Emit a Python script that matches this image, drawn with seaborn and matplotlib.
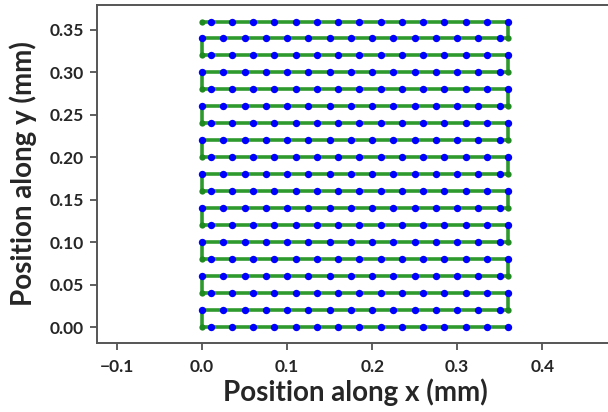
import matplotlib
matplotlib.use("Agg")
import matplotlib.pyplot as plt
import seaborn as sns
import pandas as pd

# Row positions (mm)
rows_y = [0.00, 0.02, 0.04, 0.06, 0.08, 0.10, 0.12, 0.14, 0.16, 0.18,
          0.20, 0.22, 0.24, 0.26, 0.28, 0.30, 0.32, 0.34, 0.36]
# Row end points (mm)
row_start_x = 0.36   # even rows scan right -> left
row_end_x = 0.0
# Sample positions on even rows (scanned right -> left)
samples_even_x = [0.360, 0.335, 0.310, 0.285, 0.260, 0.235, 0.210, 0.185,
                  0.160, 0.135, 0.110, 0.085, 0.060, 0.035, 0.010]
# Sample positions on odd rows (scanned left -> right)
samples_odd_x = [0.000, 0.025, 0.050, 0.075, 0.100, 0.125, 0.150, 0.175,
                 0.200, 0.225, 0.250, 0.275, 0.300, 0.325, 0.350]

# Build path (serpentine)
path_x, path_y = [], []
for i, y in enumerate(rows_y):
    if i % 2 == 0:
        path_x += [row_start_x, row_end_x]
    else:
        path_x += [row_end_x, row_start_x]
    path_y += [y, y]
path_df = pd.DataFrame({"x": path_x, "y": path_y, "order": range(len(path_x))})

sx, sy = [], []
for i, y in enumerate(rows_y):
    xs = samples_even_x if i % 2 == 0 else samples_odd_x
    sx += xs
    sy += [y] * len(xs)
samp_df = pd.DataFrame({"x": sx, "y": sy})

sns.set_theme(style="white")
plt.rcParams['font.family'] = ['Lato', 'DejaVu Sans']

fig = plt.figure(figsize=(6.08, 4.12), dpi=100)
W, H = 608, 412
left, right, top, bottom = 96.7, 613.7, 4.7, 343.3
ax = fig.add_axes([left / W, 1 - bottom / H, (right - left) / W, (bottom - top) / H])

green = "#2e9a2e"
sns.lineplot(data=path_df, x="x", y="y", sort=False, estimator=None, ax=ax,
             color=green, linewidth=2.6, marker="o", markersize=4.5,
             markeredgewidth=0, markerfacecolor="#1f8a1f")
sns.scatterplot(data=samp_df, x="x", y="y", ax=ax, color="#0000ff",
                s=28, linewidth=0, zorder=5)

ax.set_xlim(-0.124, 0.484)
ax.set_ylim(-0.0192, 0.3798)
ax.set_xticks([-0.1, 0.0, 0.1, 0.2, 0.3, 0.4])
ax.set_xticklabels(["\u22120.1", "0.0", "0.1", "0.2", "0.3", "0.4"])
ax.set_yticks([0.00, 0.05, 0.10, 0.15, 0.20, 0.25, 0.30, 0.35])
ax.set_yticklabels(["0.00", "0.05", "0.10", "0.15", "0.20", "0.25", "0.30", "0.35"])

ax.tick_params(axis="both", which="major", length=5, width=1.2, color="#444444",
               labelsize=12.5, bottom=True, left=True, pad=4)
ax.tick_params(axis="x", pad=6)
for lab in ax.get_xticklabels() + ax.get_yticklabels():
    lab.set_fontweight("bold")
for sp in ax.spines.values():
    sp.set_color("#555555")
    sp.set_linewidth(1.4)

ax.set_xlabel("Position along x (mm)", fontsize=20, fontweight="bold", labelpad=3)
ax.set_ylabel("Position along y (mm)", fontsize=20, fontweight="bold", labelpad=9)

fig.savefig("out.png", dpi=100)
